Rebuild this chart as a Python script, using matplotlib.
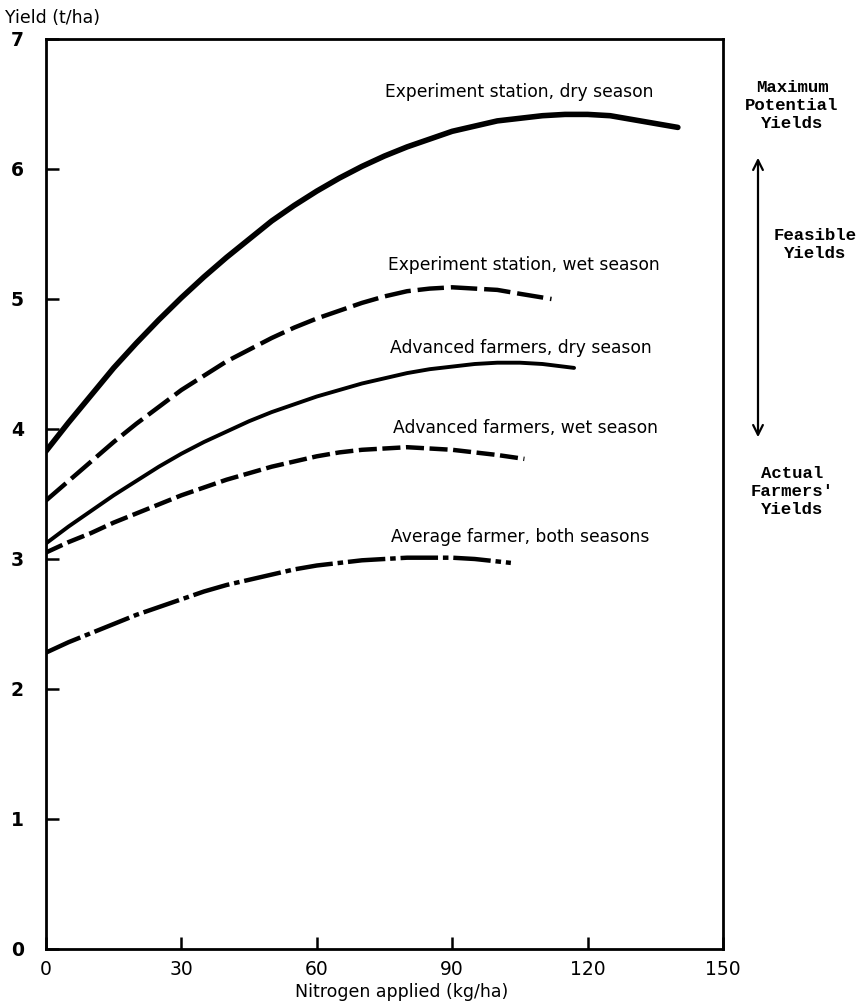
import matplotlib
matplotlib.use("Agg")
import matplotlib.pyplot as plt

# data (yield t/ha vs nitrogen kg/ha)
x_exp_dry = [0, 5, 10, 15, 20, 25, 30, 35, 40, 45, 50, 55, 60, 65, 70, 75, 80, 85, 90, 95,
             100, 105, 110, 115, 120, 125, 130, 135, 140]
y_exp_dry = [3.83, 4.05, 4.26, 4.47, 4.66, 4.84, 5.01, 5.17, 5.32, 5.46, 5.60, 5.72, 5.83, 5.93,
             6.02, 6.10, 6.17, 6.23, 6.29, 6.33, 6.37, 6.39, 6.41, 6.42, 6.42, 6.41, 6.38, 6.35, 6.32]

x_exp_wet = [0, 5, 10, 15, 20, 25, 30, 35, 40, 45, 50, 55, 60, 65, 70, 75, 80, 85, 90, 95,
             100, 105, 112]
y_exp_wet = [3.45, 3.60, 3.75, 3.90, 4.04, 4.17, 4.30, 4.41, 4.52, 4.61, 4.70, 4.78, 4.85, 4.91,
             4.97, 5.02, 5.06, 5.08, 5.09, 5.08, 5.07, 5.04, 5.00]

x_adv_dry = [0, 5, 10, 15, 20, 25, 30, 35, 40, 45, 50, 55, 60, 65, 70, 75, 80, 85, 90, 95,
             100, 105, 110, 117]
y_adv_dry = [3.12, 3.25, 3.37, 3.49, 3.60, 3.71, 3.81, 3.90, 3.98, 4.06, 4.13, 4.19, 4.25, 4.30,
             4.35, 4.39, 4.43, 4.46, 4.48, 4.50, 4.51, 4.51, 4.50, 4.47]

x_adv_wet = [0, 5, 10, 15, 20, 25, 30, 35, 40, 45, 50, 55, 60, 65, 70, 75, 80, 85, 90, 95,
             100, 106]
y_adv_wet = [3.05, 3.13, 3.20, 3.28, 3.35, 3.42, 3.49, 3.55, 3.61, 3.66, 3.71, 3.75, 3.79, 3.82,
             3.84, 3.85, 3.86, 3.85, 3.84, 3.82, 3.80, 3.77]

x_avg = [0, 5, 10, 15, 20, 25, 30, 35, 40, 45, 50, 55, 60, 65, 70, 75, 80, 85, 90, 95, 103]
y_avg = [2.28, 2.36, 2.43, 2.50, 2.57, 2.63, 2.69, 2.75, 2.80, 2.84, 2.88, 2.92, 2.95, 2.97,
         2.99, 3.00, 3.01, 3.01, 3.01, 3.00, 2.97]

curve_labels = ["Experiment station, dry season", "Experiment station, wet season",
                "Advanced farmers, dry season", "Advanced farmers, wet season",
                "Average farmer, both seasons"]
label_x = [75.1, 75.8, 76.2, 76.9, 76.4]
label_y = [6.59, 5.26, 4.62, 4.01, 3.17]

x_ticks = [0, 30, 60, 90, 120, 150]
y_ticks = [0, 1, 2, 3, 4, 5, 6, 7]

plt.rcParams['lines.scale_dashes'] = False
plt.rcParams['font.family'] = ['DejaVu Sans']

fig = plt.figure(figsize=(8.64, 10.08), dpi=100)
ax = fig.add_axes([46/864, 1-949/1008, (723-46)/864, (949-39)/1008])

common = dict(color='black', solid_capstyle='round', solid_joinstyle='round',
              dash_joinstyle='round')
ax.plot(x_exp_dry, y_exp_dry, lw=4.0, **common)
ax.plot(x_exp_wet, y_exp_wet, lw=3.2, linestyle=(0, (19, 5)), **common)
ax.plot(x_adv_dry, y_adv_dry, lw=2.8, **common)
ax.plot(x_adv_wet, y_adv_wet, lw=3.2, linestyle=(0, (13, 4)), **common)
ax.plot(x_avg, y_avg, lw=3.2, linestyle=(0, (27, 3.5, 4, 3.5)), **common)

for t, lx, ly in zip(curve_labels, label_x, label_y):
    ax.text(lx, ly, t, ha='left', va='center', fontsize=12.3)

ax.set_xlim(0, 150)
ax.set_ylim(0, 7)
ax.set_xticks(x_ticks)
ax.set_yticks(y_ticks)
ax.set_xticklabels([str(v) for v in x_ticks], fontsize=13.5)
ax.set_yticklabels([str(v) for v in y_ticks], fontsize=13.5, fontweight='bold')
ax.tick_params(direction='in', length=9, width=1.8, pad=8)
ax.tick_params(axis='y', pad=16)
for s in ax.spines.values():
    s.set_linewidth(2)

fig.text(5/864, 1-18/1008, "Yield (t/ha)", ha='left', va='center', fontsize=12.5)
fig.text(402/864, 1-992/1008, "Nitrogen applied (kg/ha)", ha='center', va='center', fontsize=12.5)

mono = dict(family='Liberation Mono', fontsize=12.5, fontweight='bold', ha='center',
            va='center', linespacing=1.25)
fig.text(792/864, 1-106/1008, "Maximum\nPotential\nYields", **mono)
fig.text(815/864, 1-244/1008, "Feasible\nYields", **mono)
fig.text(792/864, 1-491/1008, "Actual\nFarmers'\nYields", **mono)
fig.patches.append(matplotlib.patches.FancyArrowPatch(
    (758/864, 1-440/1008), (758/864, 1-155/1008), transform=fig.transFigure,
    arrowstyle='<->,head_length=7,head_width=3.5', color='black', lw=1.6))

fig.savefig('out.png', dpi=100)
